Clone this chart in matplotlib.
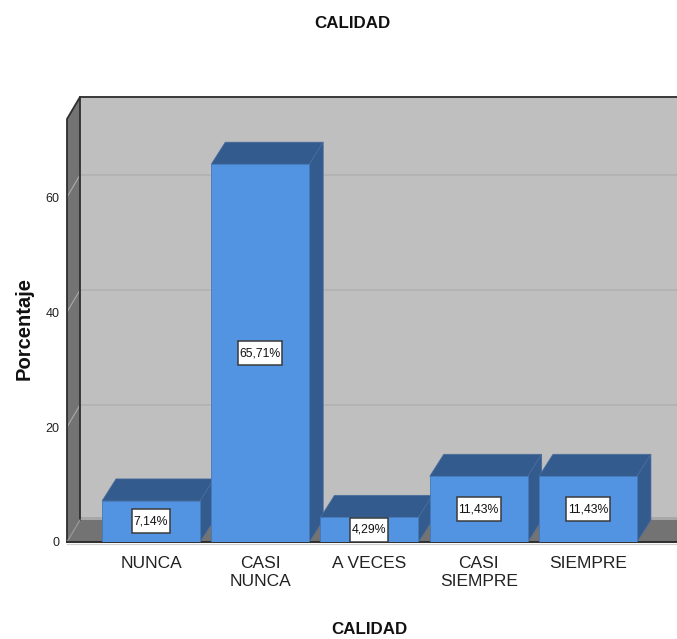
import matplotlib
matplotlib.use("Agg")
import matplotlib.pyplot as plt
from matplotlib.patches import Polygon, Rectangle

categories = ["NUNCA", "CASI\nNUNCA", "A VECES", "CASI\nSIEMPRE", "SIEMPRE"]
percentages = [7.14, 65.71, 4.29, 11.43, 11.43]
y_ticks = [0, 20, 40, 60]

W, H = 677, 639
FRONT = "#5294e2"
DARK = "#335b8e"
WALL = "#bfbfbf"
SIDE = "#737373"
EDGE = "#2e2e2e"
GRID = "#abaaaa"

plt.rcParams["font.family"] = ["Liberation Sans"]

fig = plt.figure(figsize=(W / 100, H / 100), dpi=100)
ax = fig.add_axes([67 / W, (H - 542) / H, 610 / W, 423 / H])
ax.set_xlim(-0.769, 4.815)
ax.set_ylim(0, 73.57)
for s in ax.spines.values():
    s.set_visible(False)

# depth of the box and of the bars, in data units
dx, dy = 0.119, 3.83
bdx, bdy = 0.128, 3.83
x0, x1 = ax.get_xlim()
top = ax.get_ylim()[1]
# data units per pixel, for the label boxes
px_x, px_y = (x1 - x0) / 610, top / 423


def poly(pts, fc, ec="none", lw=0.0, z=1):
    ax.add_patch(Polygon(pts, closed=True, fc=fc, ec=ec, lw=lw, zorder=z, clip_on=False))


# back wall, left wall, floor
poly([(x0 + dx, dy), (x1 + dx, dy), (x1 + dx, top + dy), (x0 + dx, top + dy)], WALL, z=1)
poly([(x0, 0), (x0 + dx, dy), (x0 + dx, top + dy), (x0, top)], SIDE, z=1)
poly([(x0, 0), (x1, 0), (x1 + dx, dy), (x0 + dx, dy)], SIDE, z=1)
ax.fill_between([x0 + dx, x1 + dx], dy, dy + 0.5, color="#a8a8a8", lw=0, zorder=1.2, clip_on=True)

# gridlines follow the left wall and then the back wall
for t in y_ticks[1:]:
    ax.plot([x0, x0 + dx, x1 + dx], [t, t + dy, t + dy], color=GRID, lw=0.8, zorder=1.5, clip_on=True)

# box outline
ax.plot([x0, x0, x0 + dx, x1 + dx], [0, top, top + dy, top + dy], color=EDGE, lw=1.3, zorder=2, clip_on=False)
ax.plot([x0 + dx, x0 + dx], [dy, top + dy], color=EDGE, lw=1.3, zorder=2, clip_on=False)
ax.plot([x0, x0 + dx], [0, dy], color="#9a9a9a", lw=0.8, zorder=2)

# bottom front edge with its light shadow
ax.plot([x0, x1], [0, 0], color=EDGE, lw=1.4, zorder=2, clip_on=False)
ax.plot([x0, x1], [-0.28, -0.28], color="#d0d0d0", lw=0.9, zorder=2, clip_on=False)

width = 0.897
for i, v in enumerate(percentages):
    z = 3 + i
    xl, xr = i - width / 2, i + width / 2
    poly([(xl, v), (xr, v), (xr + bdx, v + bdy), (xl + bdx, v + bdy)], DARK, ec="#4a6d9c", lw=0.5, z=z)
    poly([(xr, 0), (xr + bdx, bdy), (xr + bdx, v + bdy), (xr, v)], DARK, ec="#4a6d9c", lw=0.5, z=z)
    ax.bar(i, v, width=width, color=FRONT, edgecolor="#4478b8", linewidth=0.6, zorder=z + 0.1)

    label = f"{v:.2f}%".replace(".", ",")
    box_w = (38 if len(label) == 5 else 44) * px_x
    box_h = 24 * px_y
    ax.add_patch(Rectangle((i - box_w / 2, v / 2 - box_h / 2), box_w, box_h, fc="white", ec="#3a3a3a",
                           lw=1.1, zorder=z + 0.2))
    ax.text(i, v / 2, label, ha="center", va="center", fontsize=8.8, color="#111111", zorder=z + 0.3)

ax.set_xticks(range(len(categories)))
ax.set_xticklabels(categories, fontsize=12.5, color="#222222", linespacing=1.26)
ax.set_yticks(y_ticks)
ax.set_yticklabels([str(t) for t in y_ticks], fontsize=9, color="#222222")
ax.tick_params(axis="x", length=0, pad=10)
ax.tick_params(axis="y", length=0, pad=5.5)

fig.text(352 / W, 1 - 23 / H, "CALIDAD", ha="center", va="center", fontsize=12.2, fontweight="bold", color="#111111")
fig.text(369 / W, 1 - 629 / H, "CALIDAD", ha="center", va="center", fontsize=12.2, fontweight="bold", color="#111111")
fig.text(24 / W, 1 - 329 / H, "Porcentaje", rotation=90, ha="center", va="center", fontsize=14.5,
         fontweight="bold", color="#111111")

fig.savefig("out.png", dpi=100)
